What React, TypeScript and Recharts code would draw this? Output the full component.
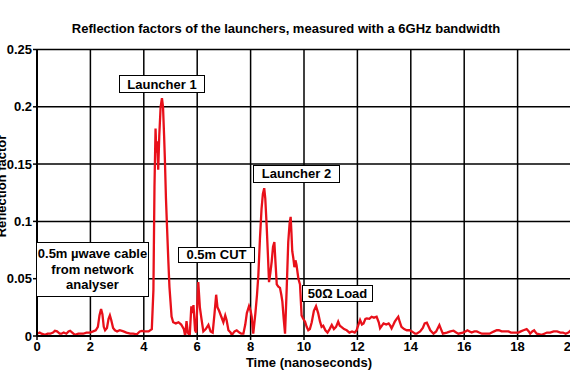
import React from 'react';
import { LineChart, Line, XAxis, YAxis, CartesianGrid } from 'recharts';

// Time axis (nanoseconds)
const times: number[] = [
  0, 0.1, 0.17, 0.3, 0.4, 0.5, 0.6, 0.67, 0.75, 0.85, 0.92, 1.0, 1.1, 1.18, 1.24, 1.32, 1.42, 1.55, 1.65, 1.73,
  1.85, 1.98, 2.1, 2.2, 2.28, 2.34, 2.4, 2.45, 2.5, 2.55, 2.62, 2.68, 2.73, 2.78, 2.85, 2.92, 3.0, 3.1, 3.24, 3.35,
  3.49, 3.6, 3.74, 3.85, 3.93, 4.0, 4.1, 4.18, 4.3, 4.36, 4.4, 4.44, 4.47, 4.5, 4.54, 4.58, 4.63, 4.68, 4.72, 4.76,
  4.79, 4.83, 4.87, 4.92, 4.96, 5.0, 5.04, 5.1, 5.2, 5.3, 5.4, 5.5, 5.55, 5.6, 5.65, 5.72, 5.78, 5.82, 5.86, 5.92,
  5.96, 6.04, 6.1, 6.16, 6.23, 6.32, 6.42, 6.5, 6.58, 6.65, 6.71, 6.76, 6.82, 6.9, 6.98, 7.05, 7.1, 7.17, 7.25, 7.3,
  7.4, 7.48, 7.58, 7.65, 7.73, 7.8, 7.86, 7.94, 8.0, 8.04, 8.1, 8.18, 8.24, 8.29, 8.35, 8.41, 8.46, 8.51, 8.55, 8.6,
  8.65, 8.69, 8.74, 8.79, 8.84, 8.89, 8.93, 8.98, 9.04, 9.1, 9.15, 9.19, 9.24, 9.29, 9.35, 9.41, 9.46, 9.5, 9.53, 9.56,
  9.6, 9.64, 9.68, 9.72, 9.76, 9.79, 9.85, 9.91, 9.97, 10.04, 10.1, 10.16, 10.22, 10.29, 10.37, 10.45, 10.53, 10.6, 10.66, 10.72,
  10.8, 10.88, 10.96, 11.04, 11.12, 11.2, 11.28, 11.34, 11.4, 11.5, 11.6, 11.7, 11.8, 11.9, 11.97, 12.04, 12.1, 12.17, 12.23, 12.3,
  12.35, 12.45, 12.53, 12.62, 12.72, 12.8, 12.85, 12.92, 12.98, 13.08, 13.17, 13.23, 13.28, 13.35, 13.4, 13.47, 13.53, 13.59, 13.65, 13.75,
  13.85, 13.95, 14.04, 14.16, 14.22, 14.35, 14.45, 14.52, 14.6, 14.67, 14.73, 14.85, 14.95, 15.07, 15.13, 15.2, 15.35, 15.48, 15.6, 15.7,
  15.78, 15.95, 16.05, 16.12, 16.2, 16.28, 16.38, 16.47, 16.56, 16.66, 16.85, 16.95, 17.03, 17.12, 17.22, 17.3, 17.4, 17.53, 17.66, 17.75,
  17.84, 17.95, 18.03, 18.12, 18.22, 18.34, 18.42, 18.47, 18.55, 18.62, 18.68, 18.72, 18.9, 19.0, 19.1, 19.22, 19.35, 19.48, 19.6, 19.7,
  19.8, 19.9, 20.0,
];

// Reflection factor values
const reflection: number[] = [
  0.002, 0.003, 0.002, 0.001, 0.002, 0.002, 0.003, 0.0045, 0.004, 0.002, 0.002, 0.003, 0.002, 0.004, 0.0046, 0.003, 0.001, 0.002, 0.002, 0.002,
  0.003, 0.003, 0.004, 0.005, 0.008, 0.018, 0.0236, 0.019, 0.008, 0.005, 0.007, 0.015, 0.018, 0.014, 0.007, 0.005, 0.004, 0.005, 0.004, 0.003,
  0.002, 0.002, 0.0015, 0.004, 0.0045, 0.004, 0.004, 0.004, 0.006, 0.04, 0.13, 0.181, 0.16, 0.17, 0.145, 0.175, 0.2, 0.2075, 0.2, 0.175,
  0.154, 0.12, 0.095, 0.065, 0.043, 0.03, 0.017, 0.012, 0.011, 0.012, 0.01, 0.006, 0.0, 0.013, 0.003, 0.0, 0.026, 0.02, 0.027, 0.005,
  0.003, 0.047, 0.025, 0.015, 0.004, 0.006, 0.0096, 0.004, 0.003, 0.02, 0.036, 0.025, 0.022, 0.017, 0.012, 0.018, 0.014, 0.005, 0.003, 0.001,
  0.004, 0.005, 0.003, 0.002, 0.002, 0.01, 0.02, 0.026, 0.022, 0.017, 0.002, 0.02, 0.036, 0.053, 0.085, 0.111, 0.124, 0.129, 0.12, 0.097,
  0.07, 0.047, 0.055, 0.065, 0.078, 0.082, 0.065, 0.045, 0.043, 0.042, 0.036, 0.03, 0.015, 0.002, 0.04, 0.082, 0.098, 0.104, 0.09, 0.074,
  0.068, 0.06, 0.066, 0.062, 0.055, 0.05, 0.045, 0.018, 0.015, 0.0125, 0.008, 0.005, 0.006, 0.012, 0.022, 0.026, 0.02, 0.0125, 0.008, 0.009,
  0.005, 0.003, 0.006, 0.0096, 0.006, 0.008, 0.0125, 0.009, 0.008, 0.006, 0.005, 0.003, 0.004, 0.003, 0.005, 0.01, 0.014, 0.01, 0.011, 0.015,
  0.0154, 0.015, 0.0168, 0.016, 0.0168, 0.012, 0.0067, 0.009, 0.011, 0.01, 0.011, 0.009, 0.0067, 0.01, 0.0125, 0.015, 0.0168, 0.012, 0.008, 0.006,
  0.005, 0.005, 0.004, 0.002, 0.002, 0.004, 0.007, 0.011, 0.0116, 0.008, 0.005, 0.002, 0.004, 0.0096, 0.006, 0.002, 0.003, 0.004, 0.0046, 0.003,
  0.002, 0.003, 0.004, 0.005, 0.004, 0.003, 0.004, 0.004, 0.003, 0.002, 0.002, 0.002, 0.003, 0.004, 0.005, 0.005, 0.004, 0.004, 0.004, 0.003,
  0.003, 0.003, 0.003, 0.004, 0.005, 0.006, 0.004, 0.002, 0.004, 0.005, 0.003, 0.002, 0.001, 0.002, 0.003, 0.003, 0.004, 0.004, 0.003, 0.003,
  0.002, 0.003, 0.005,
];

const xTicks: number[] = [0, 2, 4, 6, 8, 10, 12, 14, 16, 18, 20];
const yTicks: number[] = [0, 0.05, 0.1, 0.15, 0.2, 0.25];

const titleText = 'Reflection factors of the launchers, measured with a 6GHz bandwidth';
const xLabelText = 'Time (nanoseconds)';
const yLabelText = 'Reflection factor';

const data = times.map((t, i) => ({ t, v: reflection[i] }));

const FONT = '"Liberation Sans", Arial, sans-serif';

const tickStyle = { fontFamily: FONT, fontWeight: 700, fontSize: 13, fill: '#000' };

const boxStyle = (left: number, top: number, width: number, height: number): React.CSSProperties => ({
  position: 'absolute',
  left,
  top,
  width,
  height,
  boxSizing: 'border-box',
  border: '1.5px solid #000',
  background: '#fff',
  fontFamily: FONT,
  fontWeight: 700,
  fontSize: 13,
  color: '#000',
  display: 'flex',
  flexDirection: 'column',
  alignItems: 'center',
  justifyContent: 'center',
  textAlign: 'center',
  whiteSpace: 'nowrap',
});

const textCenter = (x: number, y: number, rotate = 0): React.CSSProperties => ({
  position: 'absolute',
  left: x,
  top: y,
  transform: `translate(-50%, -50%) rotate(${rotate}deg)`,
  fontFamily: FONT,
  fontWeight: 700,
  fontSize: 13,
  lineHeight: '13px',
  color: '#000',
  whiteSpace: 'nowrap',
});

export default function App() {
  return (
    <div style={{ position: 'absolute', left: 0, top: 0, width: 570, height: 380, overflow: 'hidden', background: '#fff' }}>
      <LineChart
        width={600}
        height={380}
        data={data}
        margin={{ top: 49.5, right: 29, left: 0, bottom: 14 }}
      >
        <CartesianGrid stroke="#000" strokeWidth={1.5} />
        <XAxis
          dataKey="t"
          type="number"
          domain={[0, 20]}
          ticks={xTicks}
          height={30}
          tick={tickStyle}
          tickSize={4}
          tickMargin={2}
          axisLine={{ stroke: '#000', strokeWidth: 2 }}
          tickLine={{ stroke: '#000', strokeWidth: 1.5 }}
          interval={0}
        />
        <YAxis
          type="number"
          domain={[0, 0.25]}
          ticks={yTicks}
          width={37}
          tick={tickStyle}
          tickSize={4}
          tickMargin={1}
          tickFormatter={(v: number) => String(v)}
          axisLine={{ stroke: '#000', strokeWidth: 2 }}
          tickLine={{ stroke: '#000', strokeWidth: 1.5 }}
          interval={0}
          allowDataOverflow
        />
        <Line
          dataKey="v"
          type="linear"
          stroke="#e8101a"
          strokeWidth={2.3}
          dot={false}
          isAnimationActive={false}
        />
      </LineChart>

      <div style={textCenter(286, 28)}>{titleText}</div>
      <div style={textCenter(309, 362)}>{xLabelText}</div>
      <div style={textCenter(1, 186, -90)}>{yLabelText}</div>

      <div style={boxStyle(119, 75, 86, 18)}>Launcher 1</div>
      <div style={boxStyle(253, 165, 87, 17.5)}>Launcher 2</div>
      <div style={boxStyle(178, 246.5, 77, 16.5)}>0.5m CUT</div>
      <div style={boxStyle(302, 285, 71, 17)}>50Ω Load</div>
      <div style={{ ...boxStyle(36, 241.5, 113, 55.5), lineHeight: '15.5px' }}>
        <div>0.5m µwave cable</div>
        <div>from network</div>
        <div>analyser</div>
      </div>
    </div>
  );
}
